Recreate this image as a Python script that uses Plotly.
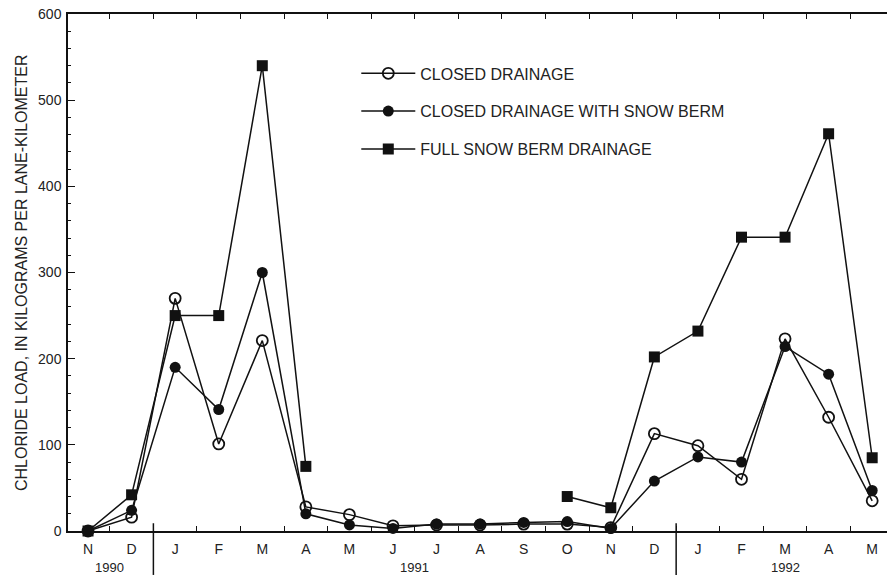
import plotly.graph_objects as go

# Month sequence Nov 1990 - May 1992
months = ["N", "D", "J", "F", "M", "A", "M", "J", "J", "A", "S", "O",
          "N", "D", "J", "F", "M", "A", "M"]
years = ["1990", "1991", "1992"]
year_centers = [0.5, 7.5, 16.0]
year_breaks = [1.5, 13.5]

# Chloride load, kilograms per lane-kilometer
closed = [0, 16, 270, 101, 221, 28, 19, 6, 7, 7, 8, 8, 4, 113, 99, 60, 223, 132, 35]
closed_berm = [0, 24, 190, 141, 300, 20, 7, 3, 8, 8, 10, 11, 3, 58, 86, 80, 214, 182, 47]
full_berm = [0, 42, 250, 250, 540, 75, None, None, None, None, None, 40,
             27, 202, 232, 341, 341, 461, 85]

x = list(range(len(months)))
INK = "#111111"
TXT = "#222222"
FONT = "Liberation Sans, Arial, sans-serif"

fig = go.Figure()
series = [
    ("CLOSED DRAINAGE", closed, dict(symbol="circle-open", size=11,
                                     line=dict(width=1.8, color=INK), color=INK)),
    ("CLOSED DRAINAGE WITH SNOW BERM", closed_berm, dict(symbol="circle", size=11, color=INK)),
    ("FULL SNOW BERM DRAINAGE", full_berm, dict(symbol="square", size=11, color=INK)),
]
for i, (name, vals, marker) in enumerate(series):
    fig.add_trace(go.Scatter(
        x=x, y=vals, name=name, mode="lines+markers",
        line=dict(color=INK, width=1.5), marker=marker,
        cliponaxis=False, legendgroup=f"g{i}",
    ))

# Month labels on an overlaid axis; boundary ticks on the main axis
fig.add_trace(go.Scatter(x=[0], y=[None], xaxis="x2", showlegend=False, hoverinfo="skip"))

xr = [-0.46, 18.34]
fig.update_layout(
    width=887, height=575,
    margin=dict(l=68, r=0, t=14, b=44),
    plot_bgcolor="white", paper_bgcolor="white",
    font=dict(family=FONT, color=TXT, size=14),
    xaxis=dict(range=xr, showgrid=False, zeroline=False, showline=True,
               linecolor=INK, linewidth=1.5, mirror="ticks",
               tickvals=[v + 0.5 for v in x[:-1]], ticks="inside", ticklen=5,
               tickcolor=INK, tickwidth=1.2, showticklabels=False),
    xaxis2=dict(range=xr, overlaying="x", side="bottom", showgrid=False,
                zeroline=False, showline=False, ticks="", ticklabelstandoff=8,
                tickvals=x, ticktext=months, tickfont=dict(size=14, color=TXT)),
    yaxis=dict(range=[0, 600], showgrid=False, zeroline=False, showline=True,
               linecolor=INK, linewidth=1.5,
               tickvals=list(range(0, 601, 100)), ticks="inside", ticklen=7,
               tickcolor=INK, tickwidth=1.2, ticklabelstandoff=2,
               tickfont=dict(size=14, color=TXT),
               minor=dict(dtick=20, ticks="inside", ticklen=3, tickcolor=INK, tickwidth=1)),
    legend=dict(x=0.352, y=0.918, xanchor="left", yanchor="top",
                bgcolor="rgba(0,0,0,0)", font=dict(size=16, color=TXT),
                tracegroupgap=14, itemwidth=54),
    showlegend=True,
)

# Year separators below the axis
for b in year_breaks:
    fig.add_shape(type="line", xref="x", yref="paper", x0=b, x1=b,
                  y0=0.015, y1=-0.085, line=dict(color=INK, width=1.5))

for label, xc in zip(years, year_centers):
    fig.add_annotation(x=xc, y=0, xref="x", yref="paper", text=label,
                       showarrow=False, yshift=-46, font=dict(size=13, color=TXT))

fig.add_annotation(
    text="CHLORIDE LOAD, IN KILOGRAMS PER LANE-KILOMETER",
    xref="paper", yref="paper", x=0, y=0.499, xanchor="center", yanchor="middle",
    xshift=-47, textangle=-90, showarrow=False, font=dict(size=16, color=TXT),
)

fig.write_html("out.html")
